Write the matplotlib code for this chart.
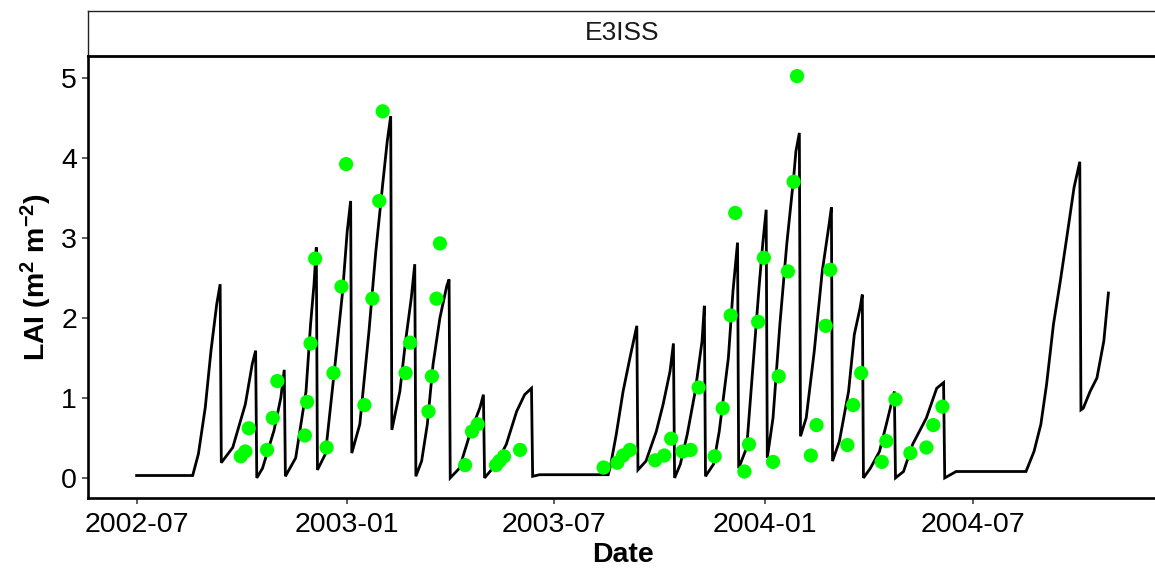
import matplotlib
matplotlib.use("Agg")
import matplotlib.pyplot as plt
import matplotlib.dates as mdates
import pandas as pd
import numpy as np

# ---------------- data ----------------
panel_title = "E3ISS"

line_dates = [
    '2002-07-01', '2002-08-19', '2002-08-24', '2002-08-30', '2002-09-04', '2002-09-09', '2002-09-12',
    '2002-09-13', '2002-09-23', '2002-10-04', '2002-10-10', '2002-10-13',
    '2002-10-14', '2002-10-19', '2002-10-29', '2002-11-04', '2002-11-07',
    '2002-11-08', '2002-11-17', '2002-11-26', '2002-11-30', '2002-12-03', '2002-12-05',
    '2002-12-06', '2002-12-13', '2002-12-22', '2002-12-28', '2003-01-01', '2003-01-04',
    '2003-01-05', '2003-01-12', '2003-01-20', '2003-01-26', '2003-02-01', '2003-02-05', '2003-02-08',
    '2003-02-09', '2003-02-16', '2003-02-21', '2003-02-26', '2003-03-01',
    '2003-03-02', '2003-03-07', '2003-03-12', '2003-03-17', '2003-03-23', '2003-03-29', '2003-03-31',
    '2003-04-01', '2003-04-09', '2003-04-18', '2003-04-27', '2003-04-30',
    '2003-05-01', '2003-05-11', '2003-05-20', '2003-05-29', '2003-06-05', '2003-06-11',
    '2003-06-12', '2003-06-18', '2003-08-17',
    '2003-08-19', '2003-08-24', '2003-08-30', '2003-09-05', '2003-09-11',
    '2003-09-12', '2003-09-19', '2003-09-28', '2003-10-04', '2003-10-10', '2003-10-13',
    '2003-10-14', '2003-10-19', '2003-10-25', '2003-11-01', '2003-11-07', '2003-11-09',
    '2003-11-10', '2003-11-17', '2003-11-22', '2003-11-30', '2003-12-04', '2003-12-08',
    '2003-12-09', '2003-12-16', '2003-12-22', '2003-12-27', '2003-12-30', '2004-01-02',
    '2004-01-03', '2004-01-08', '2004-01-14', '2004-01-20', '2004-01-26', '2004-01-28', '2004-01-31',
    '2004-02-01', '2004-02-06', '2004-02-13', '2004-02-20', '2004-02-26', '2004-02-28',
    '2004-02-29', '2004-03-06', '2004-03-14', '2004-03-19', '2004-03-24', '2004-03-26',
    '2004-03-27', '2004-04-02', '2004-04-10', '2004-04-16', '2004-04-23',
    '2004-04-24', '2004-05-01', '2004-05-09', '2004-05-21', '2004-05-30', '2004-06-05',
    '2004-06-06', '2004-06-16', '2004-08-16',
    '2004-08-23', '2004-08-29', '2004-09-03', '2004-09-09', '2004-09-15', '2004-09-21', '2004-09-27', '2004-10-02',
    '2004-10-03', '2004-10-05', '2004-10-11', '2004-10-17', '2004-10-23', '2004-10-27',
]
line_lai = [
    0.03, 0.03, 0.30, 0.88, 1.59, 2.17, 2.42,
    0.19, 0.38, 0.92, 1.42, 1.59,
    0.00, 0.12, 0.59, 1.00, 1.35,
    0.02, 0.25, 1.08, 1.92, 2.42, 2.88,
    0.10, 0.30, 1.50, 2.33, 3.08, 3.46,
    0.31, 0.67, 1.83, 2.83, 3.67, 4.21, 4.52,
    0.60, 1.08, 1.71, 2.25, 2.67,
    0.02, 0.21, 0.67, 1.42, 2.00, 2.40, 2.48,
    0.00, 0.12, 0.54, 0.88, 1.04,
    0.00, 0.17, 0.42, 0.83, 1.04, 1.12,
    0.02, 0.04, 0.04,
    0.15, 0.54, 1.08, 1.50, 1.90,
    0.10, 0.21, 0.58, 0.92, 1.33, 1.68,
    0.00, 0.17, 0.54, 1.08, 1.71, 2.15,
    0.02, 0.17, 0.58, 1.50, 2.33, 2.94,
    0.12, 0.38, 1.50, 2.42, 2.92, 3.35,
    0.25, 0.75, 1.92, 2.92, 3.75, 4.08, 4.31,
    0.52, 0.75, 1.58, 2.58, 3.17, 3.38,
    0.21, 0.46, 1.08, 1.79, 2.12, 2.29,
    0.00, 0.12, 0.33, 0.67, 1.08,
    0.00, 0.08, 0.42, 0.75, 1.12, 1.19,
    0.00, 0.08, 0.08,
    0.33, 0.67, 1.17, 1.92, 2.46, 3.04, 3.63, 3.95,
    0.85, 0.87, 1.08, 1.25, 1.71, 2.31,
]

obs_dates = [
    '2002-09-30', '2002-10-04', '2002-10-07', '2002-10-23', '2002-10-28', '2002-11-01',
    '2002-11-25', '2002-11-27', '2002-11-30', '2002-12-04', '2002-12-14', '2002-12-20',
    '2002-12-27', '2002-12-31', '2003-01-16', '2003-01-23', '2003-01-29', '2003-02-01',
    '2003-02-21', '2003-02-25', '2003-03-13', '2003-03-16', '2003-03-20', '2003-03-23',
    '2003-04-14', '2003-04-20', '2003-04-25', '2003-05-11', '2003-05-14', '2003-05-18',
    '2003-06-01', '2003-08-13', '2003-08-25', '2003-08-30', '2003-09-05', '2003-09-27',
    '2003-10-05', '2003-10-11', '2003-10-21', '2003-10-28', '2003-11-04', '2003-11-18',
    '2003-11-25', '2003-12-02', '2003-12-06', '2003-12-14', '2003-12-18', '2003-12-26',
    '2003-12-31', '2004-01-08', '2004-01-13', '2004-01-21', '2004-01-26', '2004-01-29',
    '2004-02-10', '2004-02-15', '2004-02-23', '2004-02-27', '2004-03-13', '2004-03-18',
    '2004-03-25', '2004-04-12', '2004-04-16', '2004-04-24', '2004-05-07', '2004-05-21',
    '2004-05-27', '2004-06-04',
]
obs_lai = [
    0.27, 0.33, 0.62, 0.35, 0.75, 1.21,
    0.53, 0.95, 1.68, 2.74, 0.38, 1.31,
    2.39, 3.92, 0.91, 2.24, 3.46, 4.58,
    1.31, 1.69, 0.83, 1.27, 2.24, 2.93,
    0.16, 0.58, 0.67, 0.16, 0.21, 0.27,
    0.35, 0.13, 0.19, 0.28, 0.35, 0.22,
    0.28, 0.49, 0.33, 0.35, 1.13, 0.27,
    0.87, 2.03, 3.31, 0.08, 0.42, 1.95,
    2.75, 0.20, 1.27, 2.58, 3.70, 5.02,
    0.28, 0.66, 1.90, 2.60, 0.41, 0.91,
    1.31, 0.20, 0.46, 0.98, 0.31, 0.38,
    0.66, 0.89,
]

y_ticks = [0, 1, 2, 3, 4, 5]
x_tick_dates = ['2002-07-01', '2003-01-01', '2003-07-01', '2004-01-01', '2004-07-01']

# ---------------- style ----------------
plt.rcParams['font.family'] = ['Liberation Sans', 'DejaVu Sans']
plt.rcParams['mathtext.fontset'] = 'custom'
plt.rcParams['mathtext.rm'] = 'Liberation Sans:bold'
plt.rcParams['mathtext.bf'] = 'Liberation Sans:bold'
plt.rcParams['mathtext.it'] = 'Liberation Sans:bold'

W, H = 1155, 570
fig = plt.figure(figsize=(W / 100, H / 100), dpi=100)

left_px, right_px, top_px, bottom_px = 88, 1157, 56, 498
ax = fig.add_axes([left_px / W, 1 - bottom_px / H,
                   (right_px - left_px) / W, (bottom_px - top_px) / H])

ld = pd.to_datetime(line_dates)
od = pd.to_datetime(obs_dates)

ax.plot(ld, line_lai, color='black', lw=2.0, solid_joinstyle='miter', zorder=2)
ax.scatter(od, obs_lai, s=105, color='#00FF00', edgecolors='none', zorder=3)

# ggplot-like 5% expansion
xmin = min(ld.min(), od.min())
xmax = max(ld.max(), od.max())
span = xmax - xmin
ax.set_xlim(xmin - span * 0.05, xmax + span * 0.05)
ally = list(line_lai) + list(obs_lai)
ymin, ymax = min(ally), max(ally)
ax.set_ylim(ymin - 0.05 * (ymax - ymin), ymax + 0.05 * (ymax - ymin))

ax.set_xticks(pd.to_datetime(x_tick_dates))
ax.xaxis.set_major_formatter(mdates.DateFormatter('%Y-%m'))
ax.set_yticks(y_ticks)

for side in ['top', 'right']:
    ax.spines[side].set_visible(False)
for side in ['left', 'bottom']:
    ax.spines[side].set_linewidth(1.9)
    ax.spines[side].set_color('black')

ax.tick_params(axis='both', length=4, width=1.1, color='#333333',
               labelsize=20.5, labelcolor='black')
ax.tick_params(axis='x', pad=6)
ax.tick_params(axis='y', pad=4)

ax.set_xlabel('Date', fontsize=20.5, fontweight='bold', labelpad=3)
ax.set_ylabel(r'LAI (m$^{2}$ m$^{-2}$)', fontsize=20.5, fontweight='bold', labelpad=5)

# strip
strip_top = 11
sax = fig.add_axes([left_px / W, 1 - top_px / H,
                    (right_px - left_px) / W, (top_px - strip_top) / H])
sax.set_xticks([])
sax.set_yticks([])
sax.set_facecolor('white')
for side in ['top', 'left', 'right']:
    sax.spines[side].set_linewidth(1.0)
    sax.spines[side].set_color('#222222')
sax.spines['bottom'].set_linewidth(2.0)
sax.spines['bottom'].set_color('black')
sax.text(0.5, 0.5, panel_title, ha='center', va='center', fontsize=19,
         color='#1a1a1a', transform=sax.transAxes)

fig.savefig('out.png', dpi=100)
